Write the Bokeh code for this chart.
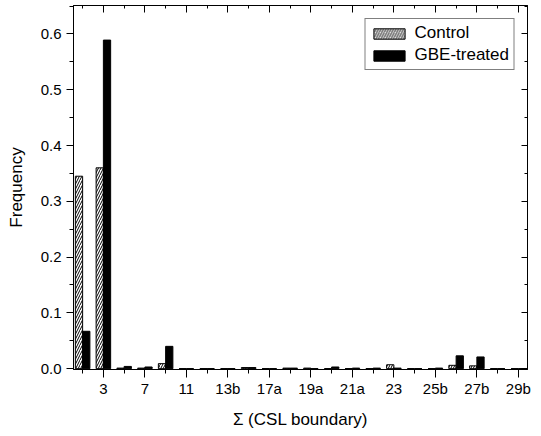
from bokeh.plotting import figure
from bokeh.models import (FixedTicker, LinearAxis, Range1d, NumeralTickFormatter,
                          Legend, LegendItem, ColumnDataSource, CustomLabelingPolicy)
from bokeh.embed import file_html
from bokeh.resources import INLINE

# ---- data ----
categories = ["1", "3", "5", "7", "9", "11", "13a", "13b", "15", "17a", "17b",
              "19a", "19b", "21a", "21b", "23", "25a", "25b", "27a", "27b", "29a", "29b"]
control = [0.345, 0.360, 0.001, 0.001, 0.009, 0.0, 0.0, 0.0, 0.002, 0.0, 0.001,
           0.001, 0.0, 0.0, 0.0, 0.007, 0.0, 0.0, 0.006, 0.005, 0.0, 0.0]
gbe = [0.067, 0.589, 0.004, 0.003, 0.040, 0.0, 0.0, 0.0, 0.002, 0.0, 0.001,
       0.0, 0.003, 0.001, 0.001, 0.001, 0.0, 0.001, 0.023, 0.021, 0.0, 0.0]
y_ticks = [0.0, 0.1, 0.2, 0.3, 0.4, 0.5, 0.6]
y_minor = [0.05, 0.15, 0.25, 0.35, 0.45, 0.55, 0.65]

idx = list(range(len(categories)))
major_idx = idx[1::2]
minor_idx = idx[0::2]
labels = {i: categories[i] for i in major_idx}

FONT = "Liberation Sans"
BW = 0.35

p = figure(output_backend="svg", toolbar_location=None,
           frame_width=454, frame_height=364,
           min_border_left=73, min_border_right=6, min_border_top=5, min_border_bottom=58,
           x_range=Range1d(-0.44, 21.44), y_range=Range1d(-0.0015, 0.651),
           x_axis_location=None, y_axis_location=None)
p.xgrid.visible = False
p.ygrid.visible = False
p.outline_line_color = "black"
p.outline_line_width = 1
p.background_fill_color = "white"
p.border_fill_color = "white"

src = ColumnDataSource(dict(x=idx, c=control, g=gbe,
                            xc=[i - BW / 2 for i in idx], xg=[i + BW / 2 for i in idx]))
r1 = p.vbar(x="xc", top="c", bottom=0, width=BW, source=src,
            fill_color="white", line_color="black", line_width=1,
            hatch_pattern="/", hatch_color="black", hatch_scale=5, hatch_weight=1)
r2 = p.vbar(x="xg", top="g", bottom=0, width=BW, source=src,
            fill_color="black", line_color="black", line_width=1)

xt = FixedTicker(ticks=major_idx, minor_ticks=minor_idx)
yt = FixedTicker(ticks=y_ticks, minor_ticks=y_minor)

no_labels = CustomLabelingPolicy(code="""
    const all = Array.from(indices)
    for (const i of all) indices.unset(i)
    return indices
""")

def style(ax):
    ax.axis_line_color = "black"
    ax.major_tick_line_color = "black"
    ax.minor_tick_line_color = "black"
    ax.major_label_text_font = FONT
    ax.major_label_text_color = "black"
    ax.axis_label_text_font = FONT
    ax.axis_label_text_font_style = "normal"
    ax.axis_label_text_color = "black"

# bottom
xb = LinearAxis(ticker=xt, axis_label="\u03a3 (CSL boundary)")
style(xb)
xb.major_label_overrides = labels
xb.major_tick_out = 8
xb.major_tick_in = 0
xb.minor_tick_out = 4
xb.minor_tick_in = 0
xb.major_label_text_font_size = "15px"
xb.major_label_standoff = 2
xb.axis_label_text_font_size = "17px"
xb.axis_label_standoff = 10
p.add_layout(xb, "below")

# left
yl = LinearAxis(ticker=yt, axis_label="Frequency", formatter=NumeralTickFormatter(format="0.0"))
style(yl)
yl.major_tick_out = 7
yl.major_tick_in = 0
yl.minor_tick_out = 4
yl.minor_tick_in = 0
yl.major_label_text_font_size = "15px"
yl.major_label_standoff = 5
yl.axis_label_text_font_size = "17px"
yl.axis_label_standoff = 12
p.add_layout(yl, "left")

# top (ticks inward, no labels)
xtop = LinearAxis(ticker=xt)
style(xtop)
xtop.major_tick_in = 7
xtop.major_tick_out = 0
xtop.minor_tick_in = 3
xtop.minor_tick_out = 0
xtop.major_label_policy = no_labels
xtop.major_label_text_font_size = "1px"
xtop.major_label_standoff = 0
p.add_layout(xtop, "above")

# right (ticks inward, no labels)
yr = LinearAxis(ticker=yt)
style(yr)
yr.major_tick_in = 6
yr.major_tick_out = 0
yr.minor_tick_in = 3
yr.minor_tick_out = 0
yr.major_label_policy = no_labels
yr.major_label_text_font_size = "1px"
yr.major_label_standoff = 0
p.add_layout(yr, "right")

legend = Legend(items=[LegendItem(label="Control", renderers=[r1]),
                       LegendItem(label="GBE-treated", renderers=[r2])],
                location="top_right")
legend.margin = 13
legend.padding = 4
legend.spacing = 2
legend.glyph_width = 39
legend.glyph_height = 13
legend.label_height = 18
legend.label_standoff = 6
legend.label_text_font = FONT
legend.label_text_font_size = "17px"
legend.label_text_color = "black"
legend.border_line_color = "black"
legend.border_line_width = 1
legend.background_fill_alpha = 1
p.add_layout(legend, "center")

open("out.html", "w").write(file_html(p, INLINE))
